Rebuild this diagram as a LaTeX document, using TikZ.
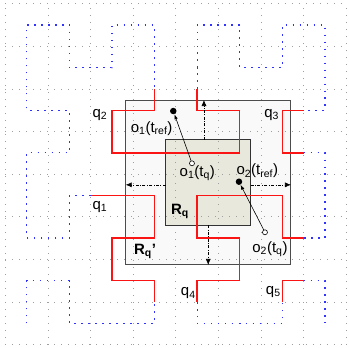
\documentclass[tikz,border=0pt]{standalone}
\usepackage{fontspec}
\setmainfont{Liberation Sans}
\usetikzlibrary{arrows.meta}

\definecolor{curvered}{RGB}{250,20,20}
\definecolor{curveblue}{RGB}{50,50,255}
\definecolor{rqfill}{RGB}{232,232,220}
\definecolor{rqpfill}{RGB}{249,249,249}

\begin{document}
\begin{tikzpicture}[x=1.5cm, y=1.5cm,
  every node/.style={font=\fontsize{15}{18}\selectfont, inner sep=0pt},
  griddot/.style={gray!75, line width=0.7pt, dash pattern=on 0.7pt off 6.3pt},
  outcurve/.style={curveblue, line width=1.2pt, dash pattern=on 1.5pt off 5.5pt},
  incurve/.style={curvered, line width=1.4pt},
  growarrow/.style={line width=0.6pt, dash pattern=on 3pt off 1.5pt on 0.8pt off 1.5pt, -{Latex[length=6pt,width=5pt]}},
  motion/.style={line width=0.6pt, -{Latex[length=5pt,width=3.5pt]}},
  refpt/.style={circle, fill=black, minimum size=6.5pt},
  qpt/.style={circle, draw=black, fill=white, line width=0.6pt, minimum size=5pt}]
  \useasboundingbox (-0.626,-0.579) rectangle (7.54,7.587);

  % extended query region and query region
  \fill[rqpfill] (2.323,1.369) rectangle (6.202,5.240);
  \fill[rqfill] (3.262,2.307) rectangle (5.256,4.302);

  % dotted grid
  \foreach \g in {-0.5,0.5,...,7.5} {
    \draw[griddot] (\g,-0.5) -- (\g,7.5);
    \draw[griddot] (-0.5,\g) -- (7.5,\g);
  }

  \draw[gray!60!black, line width=1pt] (2.323,1.369) rectangle (6.202,5.240);
  \draw[black!80, line width=1pt] (3.262,2.307) rectangle (5.256,4.302);

  % Hilbert curve, parts outside the cells in range
  \draw[outcurve] (0,0) -- (0,1) -- (1,1) -- (1,0) -- (2,0) -- (3,0) -- (3,0.5);
  \draw[outcurve] (1.5,3) -- (1,3) -- (1,2) -- (0,2) -- (0,3) -- (0,4) -- (1,4)
    -- (1,5) -- (0,5) -- (0,6) -- (0,7) -- (1,7) -- (1,6) -- (2,6) -- (2,7)
    -- (3,7) -- (3,6) -- (3,5.5);
  \draw[outcurve] (4,5.5) -- (4,6) -- (4,7) -- (5,7) -- (5,6) -- (6,6) -- (6,7)
    -- (7,7) -- (7,6) -- (7,5) -- (6.5,5);
  \draw[outcurve] (6.5,4) -- (7,4) -- (7,3) -- (7,2) -- (6.5,2);
  \draw[outcurve] (4,0.5) -- (4,0) -- (5,0) -- (6,0) -- (6,0.5);
  \draw[outcurve] (6.5,1) -- (7,1) -- (7,0);

  % parts inside
  \draw[incurve] (3,0.5) -- (3,1) -- (2,1) -- (2,2) -- (3,2) -- (3,3) -- (1.5,3);
  \draw[incurve] (3,5.5) -- (3,5) -- (2,5) -- (2,4) -- (5,4) -- (5,5) -- (4,5) -- (4,5.5);
  \draw[incurve] (6.5,5) -- (6,5) -- (6,4) -- (6.5,4);
  \draw[incurve] (6.5,2) -- (6,2) -- (6,3) -- (4,3) -- (4,2) -- (5,2) -- (5,1)
    -- (4,1) -- (4,0.5);
  \draw[incurve] (6,0.5) -- (6,1) -- (6.5,1);

  % growth of the query region
  \coordinate (gtop) at (4.16,4.302);
  \coordinate (gbot) at (4.26,2.307);
  \coordinate (glft) at (3.262,3.25);
  \coordinate (grgt) at (5.256,3.25);
  \draw[growarrow] (gtop) -- (4.16,5.240);
  \draw[growarrow] (gbot) -- (4.26,1.369);
  \draw[growarrow] (glft) -- (2.323,3.25);
  \draw[growarrow] (grgt) -- (6.202,3.25);

  % objects at t_ref and t_q
  \node[refpt] (o1ref) at (3.440,4.982) {};
  \node[qpt] (o1q) at (3.879,3.755) {};
  \node[refpt] (o2ref) at (4.982,3.323) {};
  \node[qpt] (o2q) at (5.592,2.136) {};
  \draw[motion] (o1q) -- (o1ref);
  \draw[motion] (o2q) -- (o2ref);

  % labels
  \node (lq1) at (1.720,2.737) {q\textsubscript{1}};
  \node (lq2) at (1.720,4.888) {q\textsubscript{2}};
  \node (lq3) at (5.749,4.888) {q\textsubscript{3}};
  \node (lq4) at (3.793,0.705) {q\textsubscript{4}};
  \node (lq5) at (5.787,0.743) {q\textsubscript{5}};
  \node (lo1ref) at (2.933,4.576) {o\textsubscript{1}(t\textsubscript{ref})};
  \node (lo1q) at (4.004,3.520) {o\textsubscript{1}(t\textsubscript{q})};
  \node (lo2ref) at (5.411,3.574) {o\textsubscript{2}(t\textsubscript{ref})};
  \node (lo2q) at (5.709,1.737) {o\textsubscript{2}(t\textsubscript{q})};
  \node (lrq) at (3.598,2.620) {\textbf{R\textsubscript{q}}};
  \node (lrqp) at (2.776,1.681) {\textbf{R\textsubscript{q}’}};
\end{tikzpicture}
\end{document}
